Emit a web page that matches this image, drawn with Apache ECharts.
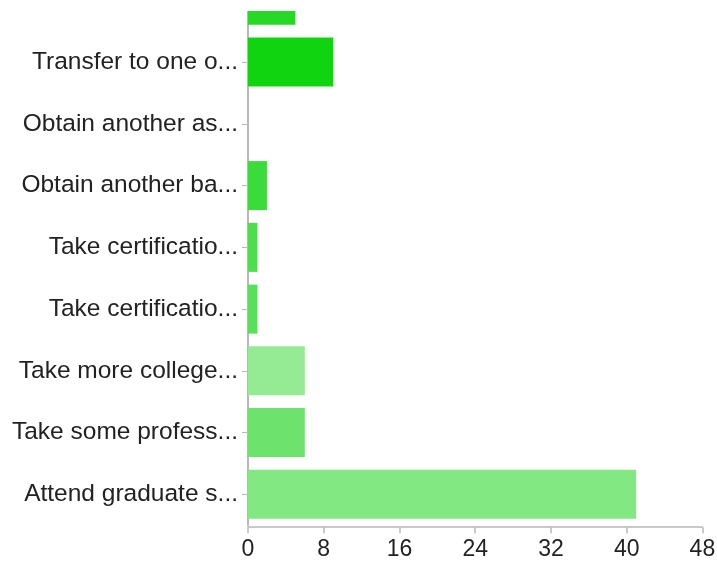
<!DOCTYPE html>
<html>
<head>
<meta charset="utf-8">
<script src="https://cdn.jsdelivr.net/npm/echarts@6/dist/echarts.min.js"></script>
<style>html,body{margin:0;padding:0;background:#fff}#c{width:717px;height:566px}</style>
</head>
<body>
<div id="c"></div>
<script>
// Categories bottom to top (top one is cut off in the reference)
const categories = [
  "Attend graduate s...",
  "Take some profess...",
  "Take more college...",
  "Take certificatio...",
  "Take certificatio...",
  "Obtain another ba...",
  "Obtain another as...",
  "Transfer to one o...",
  ""
];
const values = [41, 6, 6, 1, 1, 2, 0, 9, 5];
const barColors = ["#82e882", "#6de36d", "#94eb94", "#5adf5a", "#4ddd4d", "#3cdb3c", "#30d930", "#11d411", "#27d827"];
const xTicks = [0, 8, 16, 24, 32, 40, 48];

const chart = echarts.init(document.getElementById('c'), null, {renderer: 'canvas'});
chart.setOption({
  animation: false,
  backgroundColor: '#fff',
  grid: {left: 248, right: 14.6, top: -30.5, bottom: 40.8, containLabel: false, outerBoundsMode: 'none'},
  xAxis: {
    type: 'value', min: xTicks[0], max: xTicks[xTicks.length - 1], interval: 8,
    offset: 2,
    axisLine: {show: true, lineStyle: {color: '#b8b8b8', width: 1.5}},
    axisTick: {show: true, length: 6, lineStyle: {color: '#b8b8b8', width: 1.5}},
    splitLine: {show: false},
    axisLabel: {color: '#222', fontSize: 23, fontFamily: 'Liberation Sans, Arial, sans-serif', margin: 11}
  },
  yAxis: {
    type: 'category', data: categories,
    axisLine: {show: true, lineStyle: {color: '#b8b8b8', width: 2}},
    axisTick: {show: true, alignWithLabel: true, length: 6, lineStyle: {color: '#b8b8b8', width: 1}},
    axisLabel: {color: '#222', fontSize: 24.5, fontFamily: 'Liberation Sans, Arial, sans-serif', margin: 10, interval: 0}
  },
  series: [{
    type: 'bar',
    barWidth: 49,
    data: values.map((v, i) => ({value: v, itemStyle: {color: barColors[i]}})),
    itemStyle: {borderWidth: 0}
  }],
  graphic: [{type: 'rect', z: 100, shape: {x: 0, y: 0, width: 717, height: 11}, style: {fill: '#fff'}}]
});
</script>
</body>
</html>
